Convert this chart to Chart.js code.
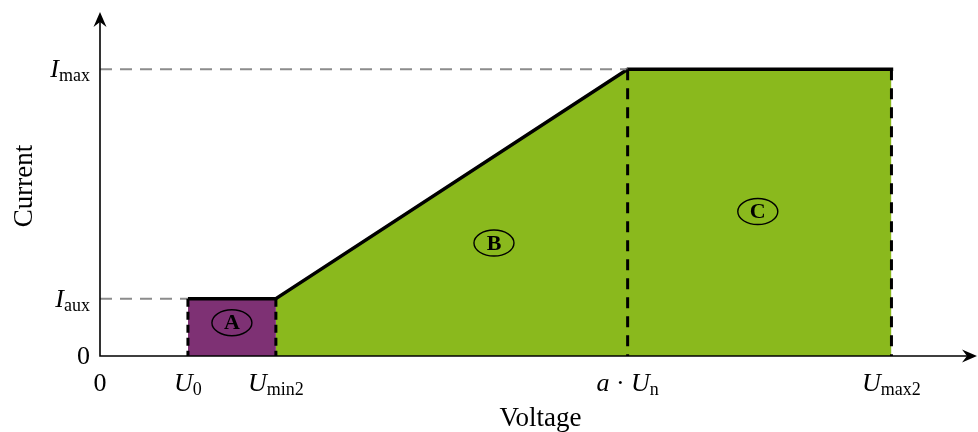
<!DOCTYPE html>
<html>
<head>
<meta charset="utf-8">
<script src="https://cdn.jsdelivr.net/npm/chart.js@4.4.1/dist/chart.umd.min.js"></script>
<style>
  html, body { margin: 0; padding: 0; background: #fff; }
  #wrap { width: 978px; height: 432px; }
</style>
</head>
<body>
<div id="wrap"><canvas id="chart"></canvas></div>
<script>
// Voltage axis, in units of U0 (0, U0, Umin2, a*Un, Umax2)
const voltageTicks = [0, 1, 2, 6, 9];
const voltageTickLabels = [
    [{ t: "0" }],
    [{ t: "U", it: true }, { t: "0", sub: true }],
    [{ t: "U", it: true }, { t: "min2", sub: true }],
    [{ t: "a", it: true }, { t: " \u00B7 " }, { t: "U", it: true }, { t: "n", sub: true }],
    [{ t: "U", it: true }, { t: "max2", sub: true }]
];

// Current axis, in units of Iaux (0, Iaux, Imax)
const currentTicks = [0, 1, 5];
const currentTickLabels = [
    [{ t: "0" }],
    [{ t: "I", it: true }, { t: "aux", sub: true }],
    [{ t: "I", it: true }, { t: "max", sub: true }]
];

// Region A (auxiliary current)
const regionAVoltage = [1, 2];
const regionACurrent = [1, 1];

// Regions B + C (ramp then max current)
const regionBCVoltage = [2, 6, 9];
const regionBCCurrent = [1, 5, 5];

// dashed guides: vertical drops and horizontal references
const dropVoltage = [1, 2, 6, 9];
const dropCurrent = [1, 1, 5, 5];
const refCurrent = [1, 5];
const refVoltageEnd = [1, 6];

// circled region names
const regionNames = ["A", "B", "C"];
const regionNameVoltage = [1.5, 4.48, 7.48];
const regionNameCurrent = [0.58, 1.97, 2.52];

const FONT = '"Liberation Serif", "Times New Roman", serif';
const PURPLE = "#7e3174";
const GREEN = "#8ab91d";

function toPoints(xs, ys) {
    return xs.map((x, i) => ({ x: x, y: ys[i] }));
}

// draws "I_max" style labels: italic symbol + roman subscript
function drawMath(ctx, parts, x, y, align) {
    const size = 26, subSize = 18;
    const fontOf = p => (p.it ? "italic " : "") + (p.sub ? subSize : size) + "px " + FONT;
    let width = 0;
    parts.forEach(p => { ctx.font = fontOf(p); width += ctx.measureText(p.t).width; });
    let cx = x;
    if (align === "center") cx = x - width / 2;
    if (align === "right") cx = x - width;
    ctx.textAlign = "left";
    ctx.textBaseline = "alphabetic";
    parts.forEach(p => {
        ctx.font = fontOf(p);
        ctx.fillText(p.t, cx, y + (p.sub ? 4 : 0));
        cx += ctx.measureText(p.t).width;
    });
}

const drawExtras = {
    id: "drawExtras",
    afterDatasetsDraw(chart) {
        const ctx = chart.ctx;
        const xs = chart.scales.x, ys = chart.scales.y;
        const area = chart.chartArea;
        ctx.save();
        ctx.fillStyle = "#000";
        ctx.strokeStyle = "#000";

        // axes
        ctx.lineWidth = 1.6;
        ctx.setLineDash([]);
        ctx.beginPath();
        ctx.moveTo(area.left, area.top + 4);
        ctx.lineTo(area.left, area.bottom);
        ctx.lineTo(area.right - 4, area.bottom);
        ctx.stroke();

        // arrow heads
        function arrow(tx, ty, dir) {
            ctx.save();
            ctx.translate(tx, ty);
            ctx.rotate(dir);
            ctx.beginPath();
            ctx.moveTo(0, 0);
            ctx.lineTo(-15, -6.5);
            ctx.lineTo(-10, 0);
            ctx.lineTo(-15, 6.5);
            ctx.closePath();
            ctx.fill();
            ctx.restore();
        }
        arrow(area.left, area.top, -Math.PI / 2);
        arrow(area.right + 2, area.bottom, 0);

        // tick labels
        voltageTicks.forEach((v, i) => {
            drawMath(ctx, voltageTickLabels[i], xs.getPixelForValue(v), area.bottom + 35, "center");
        });
        currentTicks.forEach((c, i) => {
            drawMath(ctx, currentTickLabels[i], area.left - 10, ys.getPixelForValue(c) + 8, "right");
        });

        // axis titles
        ctx.font = "27px " + FONT;
        ctx.textAlign = "center";
        ctx.textBaseline = "alphabetic";
        ctx.fillText("Voltage", (area.left + area.right) / 2 + 3, 426);
        ctx.save();
        ctx.translate(32, (area.top + area.bottom) / 2 + 2);
        ctx.rotate(-Math.PI / 2);
        ctx.fillText("Current", 0, 0);
        ctx.restore();

        // circled region names
        regionNames.forEach((name, i) => {
            const px = xs.getPixelForValue(regionNameVoltage[i]);
            const py = ys.getPixelForValue(regionNameCurrent[i]);
            ctx.lineWidth = 1.4;
            ctx.beginPath();
            ctx.ellipse(px, py, 20, 13, 0, 0, Math.PI * 2);
            ctx.stroke();
            ctx.font = "bold 22px " + FONT;
            ctx.textAlign = "center";
            ctx.textBaseline = "middle";
            ctx.fillText(name, px, py + 1);
        });
        ctx.restore();
    }
};

const datasets = [];

// filled regions with the thick current curve on top
datasets.push({
    data: toPoints(regionAVoltage, regionACurrent),
    fill: "origin",
    backgroundColor: PURPLE,
    borderColor: "#000",
    borderWidth: 3.5,
    order: 2
});
datasets.push({
    data: toPoints(regionBCVoltage, regionBCCurrent),
    fill: "origin",
    backgroundColor: GREEN,
    borderColor: "#000",
    borderWidth: 3.5,
    borderCapStyle: "square",
    order: 2
});

// gray horizontal reference lines
refCurrent.forEach((c, i) => {
    datasets.push({
        data: toPoints([0, refVoltageEnd[i]], [c, c]),
        fill: false,
        borderColor: "#8c8c8c",
        borderWidth: 2,
        borderDash: [12, 8],
        order: 1
    });
});

// black dashed drops to the voltage axis
dropVoltage.forEach((v, i) => {
    datasets.push({
        data: toPoints([v, v], [dropCurrent[i], 0]),
        fill: false,
        borderColor: "#000",
        borderWidth: 3,
        borderDash: dropCurrent[i] > 1 ? [11, 8] : [8, 5],
        order: 0
    });
});

new Chart(document.getElementById("chart"), {
    type: "line",
    data: { datasets: datasets },
    options: {
        responsive: true,
        maintainAspectRatio: false,
        animation: false,
        layout: { padding: { left: 100, right: 3, top: 12, bottom: 76 } },
        elements: { point: { radius: 0, hoverRadius: 0 }, line: { tension: 0 } },
        plugins: { legend: { display: false }, tooltip: { enabled: false } },
        scales: {
            x: { type: "linear", min: 0, max: 9.95, display: false },
            y: { type: "linear", min: 0, max: 6, display: false }
        }
    },
    plugins: [drawExtras]
});
</script>
</body>
</html>
